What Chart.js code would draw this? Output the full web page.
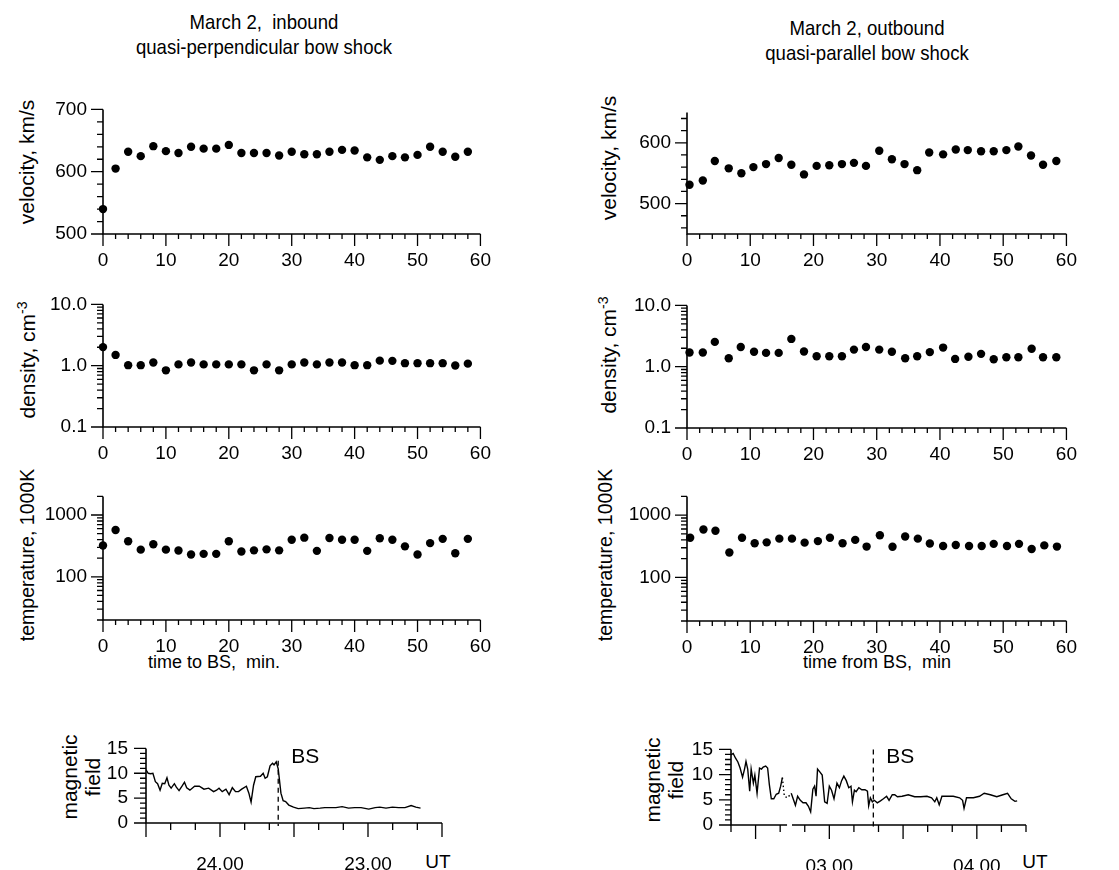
<!DOCTYPE html>
<html><head><meta charset="utf-8">
<script src="https://cdn.jsdelivr.net/npm/chart.js@4.4.0/dist/chart.umd.min.js"></script>
<style>
body{margin:0;background:#fff;width:1119px;height:870px;position:relative;overflow:hidden;font-family:"Liberation Sans",Arial,sans-serif;color:#000}
.t{position:absolute;white-space:nowrap;transform:translate(-50%,-50%);line-height:1.2}
.h{position:absolute;white-space:nowrap;transform:translate(-50%,-50%) scaleX(0.885);line-height:1.2;font-size:21px}
.r{position:absolute;white-space:nowrap;transform:translate(-50%,-50%) rotate(-90deg);text-align:center;line-height:1.1}
canvas{position:absolute}
</style></head><body>
<div class="h" style="left:264px;top:22px">March 2,&nbsp; inbound</div>
<div class="h" style="left:264px;top:47px">quasi-perpendicular bow shock</div>
<div class="h" style="left:867px;top:28px">March 2, outbound</div>
<div class="h" style="left:867px;top:53px">quasi-parallel bow shock</div>
<div class="r" style="left:27px;top:162px;font-size:21px">velocity, km/s</div>
<div class="r" style="left:609px;top:158px;font-size:21px">velocity, km/s</div>
<div class="r" style="left:27px;top:360px;font-size:21px">density, cm<sup style="font-size:14px">-3</sup></div>
<div class="r" style="left:608px;top:355px;font-size:21px">density, cm<sup style="font-size:14px">-3</sup></div>
<div class="r" style="left:28px;top:555px;font-size:19.5px">temperature, 1000K</div>
<div class="r" style="left:606px;top:555px;font-size:19.5px">temperature, 1000K</div>
<div class="t" style="left:214px;top:663px;font-size:18px">time to BS,&nbsp; min.</div>
<div class="t" style="left:877px;top:663px;font-size:18px">time from BS,&nbsp; min</div>
<div class="r" style="left:81px;top:777px;font-size:21px">magnetic<br>field</div>
<div class="r" style="left:664px;top:780px;font-size:21px">magnetic<br>field</div>
<div class="t" style="left:438px;top:862px;font-size:19px">UT</div>
<div class="t" style="left:1035px;top:862px;font-size:19px">UT</div>
<script>
// ---------- DATA ----------
const timeIn = [0,2,4,6,8,10,12,14,16,18,20,22,24,26,28,30,32,34,36,38,40,42,44,46,48,50,52,54,56,58];
const velIn = [540,605,632,625,641,633,630,640,637,637,643,630,630,630,626,632,628,628,632,635,634,623,619,625,623,627,640,632,624,632];
const densIn = [2.01,1.50,1.02,1.02,1.13,0.84,1.05,1.13,1.05,1.05,1.05,1.05,0.84,1.05,0.84,1.05,1.13,1.05,1.13,1.13,1.02,1.02,1.21,1.20,1.10,1.10,1.10,1.10,1.01,1.08];
const tempIn = [321,573,376,275,336,275,266,230,235,235,376,257,268,278,268,397,430,263,425,397,397,263,420,397,311,230,351,411,241,411];

const velOutTime = [0.4,2.5,4.4,6.6,8.6,10.5,12.5,14.5,16.5,18.5,20.5,22.5,24.5,26.4,28.3,30.4,32.4,34.4,36.4,38.3,40.5,42.5,44.4,46.5,48.5,50.5,52.4,54.4,56.3,58.4];
const velOut = [531,538,570,558,550,560,565,575,564,548,562,563,565,567,562,587,573,565,555,584,581,589,588,586,586,588,594,579,564,570];
const densOutTime = [0.4,2.5,4.4,6.6,8.5,10.6,12.5,14.5,16.5,18.5,20.5,22.5,24.5,26.4,28.3,30.4,32.4,34.5,36.4,38.4,40.5,42.4,44.5,46.5,48.5,50.5,52.4,54.5,56.3,58.4];
const densOut = [1.70,1.70,2.54,1.37,2.10,1.75,1.68,1.68,2.84,1.77,1.48,1.48,1.48,1.90,2.10,1.90,1.75,1.37,1.48,1.73,2.05,1.34,1.45,1.62,1.32,1.43,1.43,1.96,1.43,1.43];
const tempOutTime = [0.5,2.6,4.5,6.7,8.7,10.7,12.6,14.6,16.6,18.6,20.7,22.6,24.6,26.6,28.4,30.5,32.5,34.5,36.5,38.4,40.5,42.5,44.6,46.6,48.5,50.6,52.5,54.5,56.5,58.5];
const tempOut = [434,589,562,252,434,354,366,420,420,362,383,434,354,401,313,475,311,454,420,350,320,331,320,320,346,320,346,286,327,313];

// magnetic field, time in UT minutes of day (1440 = 24.00)
const magInTime = [1470.0,1469.1,1468.1,1467.2,1466.2,1465.3,1464.3,1463.4,1462.4,1461.5,1460.7,1459.8,1458.5,1457.7,1456.6,1455.4,1454.4,1453.5,1452.2,1450.3,1448.4,1446.5,1444.6,1442.6,1441.4,1440.4,1439.1,1437.6,1436.3,1435.0,1433.7,1432.5,1431.2,1429.3,1428.3,1427.4,1426.4,1425.5,1423.6,1422.5,1421.7,1420.8,1419.7,1418.7,1418.1,1417.2,1416.4,1415.3,1414.4,1413.4,1412.1,1410.2,1408.3,1405.8,1403.8,1401.9,1399.4,1397.5,1395.6,1393.0,1390.5,1387.9,1385.4,1382.8,1379.7,1377.1,1375.2,1372.7,1370.1,1367.6,1365.0,1362.5,1360.6,1358.7];
const magIn = [10.7,10.0,9.9,10.0,8.3,7.9,6.6,8.0,7.9,9.1,7.6,7.0,7.9,7.2,6.5,7.4,8.2,7.1,6.6,7.4,7.4,6.8,7.0,6.3,6.6,7.0,6.3,6.8,5.7,7.1,6.3,6.3,6.8,7.4,6.0,4.2,7.6,9.3,9.4,10.0,9.0,9.3,11.5,12.0,11.7,12.3,10.9,6.0,4.5,4.3,3.6,3.2,2.9,3.0,3.1,2.9,3.0,3.1,3.1,3.1,3.3,3.0,3.1,3.1,2.8,3.1,3.2,3.0,3.2,3.1,3.1,3.5,3.2,3.0];
const magOutTime = [140.0,140.9,141.8,142.8,143.7,144.7,145.5,146.1,146.8,147.6,148.2,149.1,149.7,150.6,151.6,152.4,153.1,154.1,154.9,155.6,156.4,157.4,158.4,159.4,160.2,160.9,161.7,163.0,164.5,165.5,166.2,167.1,168.2,169.3,170.5,171.5,172.4,173.3,174.0,174.6,175.2,176.2,177.1,178.1,179.1,180.0,180.9,181.9,183.1,184.1,185.0,185.9,186.9,187.9,188.8,189.4,190.2,190.9,192.0,193.2,194.5,195.5,196.0,196.7,197.5,198.3,199.5,200.8,202.0,203.3,204.3,205.6,206.6,207.7,209.6,212.1,214.7,217.2,219.7,221.6,222.9,223.7,224.7,225.8,227.9,230.4,233.0,234.2,234.8,235.8,238.6,241.1,243.0,245.5,248.1,250.6,252.5,254.0,255.5,256.4];
const magOut = [13.9,14.2,13.3,12.5,11.3,9.5,11.1,12.6,11.1,6.7,11.1,8.3,9.9,6.3,11.3,11.1,11.5,11.7,11.3,8.0,5.2,5.2,6.1,6.3,7.7,9.4,5.7,5.4,6.3,4.9,3.9,5.7,4.9,4.4,4.4,3.7,2.6,7.1,7.7,5.7,11.1,10.5,9.9,4.6,4.3,7.7,6.9,5.2,8.3,7.4,8.8,9.7,8.8,7.4,7.7,4.6,6.9,6.6,7.4,7.0,7.0,6.7,3.8,5.4,4.6,4.9,4.4,4.8,5.2,5.7,4.9,6.0,6.0,5.6,5.7,6.0,5.6,5.6,5.7,5.4,4.6,5.4,4.0,5.7,5.7,5.7,5.4,4.9,3.3,5.4,5.4,5.7,6.3,6.0,5.6,6.0,6.3,5.2,4.7,4.8];
const bsInTime = 1416.4;
const bsOutTime = 197.9;
const magGapOut = [162.8, 164.8];

// tick labels
const minuteTicks = [0,10,20,30,40,50,60];
const minuteTickLabels = ['0','10','20','30','40','50','60'];
const velInTicks = [500,600,700];
const velInTickLabels = ['500','600','700'];
const velOutTicks = [500,600];
const velOutTickLabels = ['500','600'];
const densTicks = [0.1,1,10];
const densTickLabels = ['0.1','1.0','10.0'];
const tempTicks = [100,1000];
const tempTickLabels = ['100','1000'];
const magTicks = [0,5,10,15];
const magTickLabels = ['0','5','10','15'];
const magInXTicks = [1440,1380];
const magInXLabels = ['24.00','23.00'];
const magOutXTicks = [180,240];
const magOutXLabels = ['03.00','04.00'];

// ---------- helpers (tick mark positions, not data) ----------
function range(a,b,s){const r=[];for(let v=a;v<=b+1e-9;v+=s)r.push(Math.round(v*1000)/1000);return r;}
const minMinor = range(0,60,2).filter(v=>v%10!==0);
const logMinor = (decades)=>{const r=[];decades.forEach(d=>{for(let k=2;k<=9;k++)r.push(k*d);});return r;};
const FONT = '"Liberation Sans", Arial, sans-serif';
const TICKSIZE = 19;

function axisPlugin(o){
  return {
    id:'axisDraw',
    afterDatasetsDraw(chart){
      const ctx=chart.ctx, xs=chart.scales.x, ys=chart.scales.y, ca=chart.chartArea;
      const L=ca.left, B=ca.bottom;
      ctx.save();
      ctx.strokeStyle='#000'; ctx.lineWidth=1.6; ctx.lineCap='butt';
      ctx.beginPath();
      ctx.moveTo(L, ys.getPixelForValue(o.yTop)); ctx.lineTo(L, B+0.8);
      const segs = o.xGap ? [[xs.min,o.xGap[0]],[o.xGap[1],xs.max]] : [[xs.min,xs.max]];
      segs.forEach(([a,b])=>{ctx.moveTo(xs.getPixelForValue(a),B);ctx.lineTo(xs.getPixelForValue(b),B);});
      ctx.stroke();
      ctx.lineWidth=1.3;
      ctx.beginPath();
      o.xMajor.forEach(v=>{const p=xs.getPixelForValue(v);ctx.moveTo(p,B);ctx.lineTo(p,B+o.xMajLen);});
      o.xMinor.forEach(v=>{const p=xs.getPixelForValue(v);ctx.moveTo(p,B);ctx.lineTo(p,B+o.xMinLen);});
      o.yMajor.forEach(v=>{const p=ys.getPixelForValue(v);ctx.moveTo(L,p);ctx.lineTo(L-o.yMajLen,p);});
      o.yMinor.forEach(v=>{const p=ys.getPixelForValue(v);ctx.moveTo(L,p);ctx.lineTo(L-o.yMinLen,p);});
      ctx.stroke();
      if(o.bs){
        const p=xs.getPixelForValue(o.bs.x);
        ctx.setLineDash([5,4]); ctx.lineWidth=1.3;
        ctx.beginPath(); ctx.moveTo(p, ys.getPixelForValue(o.bs.top)); ctx.lineTo(p, B+3); ctx.stroke();
        ctx.setLineDash([]);
        ctx.fillStyle='#000'; ctx.font='21px '+FONT; ctx.textBaseline='middle'; ctx.textAlign='left';
        ctx.fillText('BS', p+o.bs.dx, ys.getPixelForValue(o.bs.ty));
      }
      ctx.restore();
    }
  };
}

function panel(o){
  const padT=14, padR=25;
  const W=o.R-o.L+o.wy+padR, H=o.B-o.T+padT+o.hx;
  const cv=document.createElement('canvas');
  cv.width=W; cv.height=H;
  cv.style.left=(o.L-o.wy)+'px'; cv.style.top=(o.T-padT)+'px';
  cv.style.width=W+'px'; cv.style.height=H+'px';
  document.body.appendChild(cv);
  return new Chart(cv.getContext('2d'),{
    type:o.type,
    data:{datasets:o.datasets},
    plugins:[axisPlugin(o.axes)],
    options:{
      animation:false, responsive:false, events:[],
      layout:{padding:{top:padT,right:padR,left:0,bottom:0}},
      plugins:{legend:{display:false},tooltip:{enabled:false}},
      scales:{
        x:{type:'linear',min:o.xmin,max:o.xmax,reverse:!!o.xrev,
          grid:{display:false,drawTicks:false},border:{display:false},
          ticks:{color:'#000',font:{family:FONT,size:TICKSIZE},padding:o.xpad,maxRotation:0,autoSkip:false,
            callback:(v,i)=>o.xLabels[i]},
          afterBuildTicks:s=>{s.ticks=o.xTicks.map(v=>({value:v}));},
          afterFit:s=>{s.height=o.hx;}},
        y:{type:o.ytype,min:o.ymin,max:o.ymax,
          grid:{display:false,drawTicks:false},border:{display:false},
          ticks:{color:'#000',font:{family:FONT,size:TICKSIZE},padding:o.ypad,autoSkip:false,
            callback:(v,i)=>o.yLabels[i]},
          afterBuildTicks:s=>{s.ticks=o.yTicks.map(v=>({value:v}));},
          afterFit:s=>{s.width=o.wy;}}
      }
    }
  });
}

function dots(xs,ys){
  return [{data:xs.map((x,i)=>({x:x,y:ys[i]})),pointRadius:4.2,pointBackgroundColor:'#000',
    pointBorderWidth:0,showLine:false,clip:false}];
}
const minuteAxes = (yMajor,yMinor,yTop)=>({yTop,xMajor:minuteTicks,xMinor:minMinor,xMajLen:12,xMinLen:5,
  yMajor,yMinor,yMajLen:12,yMinLen:6});

const common = {type:'scatter',xmin:0,xmax:60,xTicks:minuteTicks,xLabels:minuteTickLabels,wy:70,hx:45,xpad:15,ypad:16};

panel(Object.assign({},common,{L:103,R:481,T:96,B:234,ytype:'linear',ymin:500,ymax:700,
  yTicks:velInTicks,yLabels:velInTickLabels,datasets:dots(timeIn,velIn),
  axes:minuteAxes(velInTicks,range(500,700,20).filter(v=>v%100!==0),700)}));
panel(Object.assign({},common,{L:687,R:1067,T:99,B:234,ytype:'linear',ymin:450,ymax:650,
  yTicks:velOutTicks,yLabels:velOutTickLabels,datasets:dots(velOutTime,velOut),
  axes:minuteAxes(velOutTicks,range(460,640,20).filter(v=>v%100!==0),650)}));
panel(Object.assign({},common,{L:103,R:481,T:291,B:427,ytype:'logarithmic',ymin:0.1,ymax:10,
  yTicks:densTicks,yLabels:densTickLabels,datasets:dots(timeIn,densIn),
  axes:minuteAxes(densTicks,logMinor([0.1,1]),10)}));
panel(Object.assign({},common,{L:687,R:1067,T:292,B:428,ytype:'logarithmic',ymin:0.1,ymax:10,
  yTicks:densTicks,yLabels:densTickLabels,datasets:dots(densOutTime,densOut),
  axes:minuteAxes(densTicks,logMinor([0.1,1]),10)}));
panel(Object.assign({},common,{L:103,R:481,T:483,B:620,ytype:'logarithmic',ymin:20,ymax:2000,
  yTicks:tempTicks,yLabels:tempTickLabels,datasets:dots(timeIn,tempIn),
  axes:minuteAxes(tempTicks,logMinor([10,100]).filter(v=>v>=20).concat([2000]),2000)}));
panel(Object.assign({},common,{L:687,R:1067,T:483,B:621,ytype:'logarithmic',ymin:20,ymax:2000,
  yTicks:tempTicks,yLabels:tempTickLabels,datasets:dots(tempOutTime,tempOut),
  axes:minuteAxes(tempTicks,logMinor([10,100]).filter(v=>v>=20).concat([2000]),2000)}));

function magLine(xs,ys,gap){
  return [{data:xs.map((x,i)=>({x:x,y:ys[i]})),borderColor:'#000',borderWidth:1.4,pointRadius:0,tension:0,fill:false,
    segment:{borderDash:c=>(gap && c.p0.parsed.x>=gap[0]-1.2 && c.p1.parsed.x<=gap[1]+0.2)?[1.5,2.5]:undefined}}];
}
const magMinorY = range(0,15,1).filter(v=>v%5!==0);
panel({type:'line',L:146,R:442,T:733,B:823,wy:70,hx:55,xpad:30,ypad:18,
  xmin:1350,xmax:1470,xrev:true,xTicks:magInXTicks,xLabels:magInXLabels,
  ytype:'linear',ymin:0,ymax:15,yTicks:magTicks,yLabels:magTickLabels,
  datasets:magLine(magInTime,magIn,null),
  axes:{yTop:15,xMajor:[1470,1440,1410,1380,1350],xMinor:[1460,1450,1430,1420,1400,1390,1370,1360],xMajLen:14,xMinLen:7,
    yMajor:magTicks,yMinor:magMinorY,yMajLen:12,yMinLen:6,bs:{x:bsInTime,top:12.5,dx:13,ty:13.2}}});
panel({type:'line',L:731,R:1026,T:734,B:825,wy:70,hx:55,xpad:30,ypad:18,
  xmin:140,xmax:260,xTicks:magOutXTicks,xLabels:magOutXLabels,
  ytype:'linear',ymin:0,ymax:15,yTicks:magTicks,yLabels:magTickLabels,
  datasets:magLine(magOutTime,magOut,[161.7,164.5]),
  axes:{yTop:15,xMajor:[150,180,210,240],xMinor:[140,160,170,190,200,220,230,250,260],xMajLen:14,xMinLen:7,xGap:magGapOut,
    yMajor:magTicks,yMinor:magMinorY,yMajLen:12,yMinLen:6,bs:{x:bsOutTime,top:15,dx:13,ty:13.5}}});
</script>
</body></html>
